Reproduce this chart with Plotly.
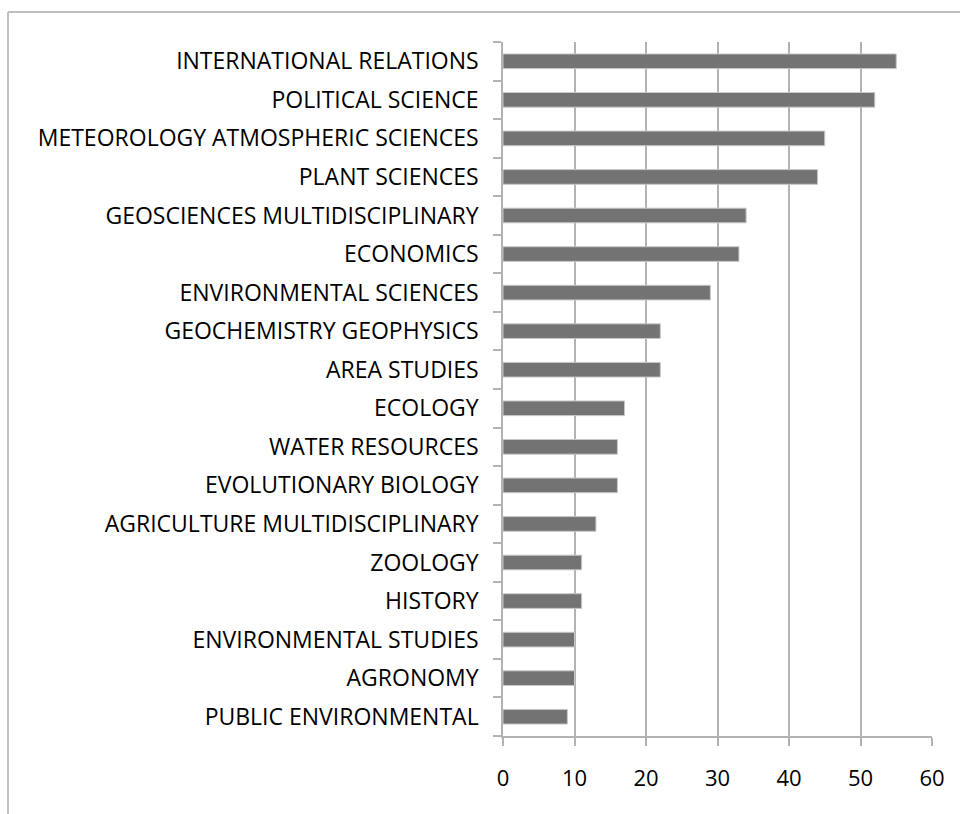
import plotly.graph_objects as go

categories = [
    "INTERNATIONAL RELATIONS",
    "POLITICAL SCIENCE",
    "METEOROLOGY ATMOSPHERIC SCIENCES",
    "PLANT SCIENCES",
    "GEOSCIENCES MULTIDISCIPLINARY",
    "ECONOMICS",
    "ENVIRONMENTAL SCIENCES",
    "GEOCHEMISTRY GEOPHYSICS",
    "AREA STUDIES",
    "ECOLOGY",
    "WATER RESOURCES",
    "EVOLUTIONARY BIOLOGY",
    "AGRICULTURE MULTIDISCIPLINARY",
    "ZOOLOGY",
    "HISTORY",
    "ENVIRONMENTAL STUDIES",
    "AGRONOMY",
    "PUBLIC ENVIRONMENTAL",
]
values = [55, 52, 45, 44, 34, 33, 29, 22, 22, 17, 16, 16, 13, 11, 11, 10, 10, 9]
x_ticks = [0, 10, 20, 30, 40, 50, 60]

FONT = "Open Sans"

fig = go.Figure(go.Bar(
    x=values,
    y=categories,
    orientation="h",
    width=0.38,
    marker=dict(color="#737373", line=dict(color="#c8c8c8", width=1)),
))

fig.update_layout(
    width=960, height=814,
    margin=dict(l=503, r=28, t=42, b=78),
    paper_bgcolor="white",
    plot_bgcolor="white",
    showlegend=False,
    font=dict(family=FONT, color="black", size=23),
    xaxis=dict(
        range=[0, 60],
        tickvals=x_ticks,
        showgrid=True, gridcolor="#b3b3b3", gridwidth=1.5,
        zeroline=False,
        showline=True, linecolor="#b3b3b3", linewidth=1.5,
        ticks="outside", ticklen=8, tickcolor="#b3b3b3", tickwidth=1.5,
        ticklabelstandoff=14,
        tickfont=dict(family=FONT, size=22, color="black"),
        fixedrange=True,
    ),
    yaxis=dict(
        categoryorder="array",
        categoryarray=categories[::-1],
        autorange=False,
        range=[-0.5, len(categories) - 0.5],
        showgrid=False,
        showline=True, linecolor="#b3b3b3", linewidth=1.5,
        ticks="outside", ticklen=8, tickcolor="#b3b3b3", tickwidth=1.5,
        tickson="boundaries",
        ticklabelstandoff=18,
        tickfont=dict(family=FONT, size=23, color="black"),
        fixedrange=True,
    ),
    shapes=[
        dict(type="line", xref="paper", yref="paper",
             x0=(8 - 503) / 429, x1=(962 - 503) / 429,
             y0=(736 - 12) / 694, y1=(736 - 12) / 694,
             line=dict(color="#bfbfbf", width=2)),
        dict(type="line", xref="paper", yref="paper",
             x0=(8 - 503) / 429, x1=(8 - 503) / 429,
             y0=(736 - 12) / 694, y1=(736 - 816) / 694,
             line=dict(color="#bfbfbf", width=2)),
    ],
)

fig.write_html("out.html")
